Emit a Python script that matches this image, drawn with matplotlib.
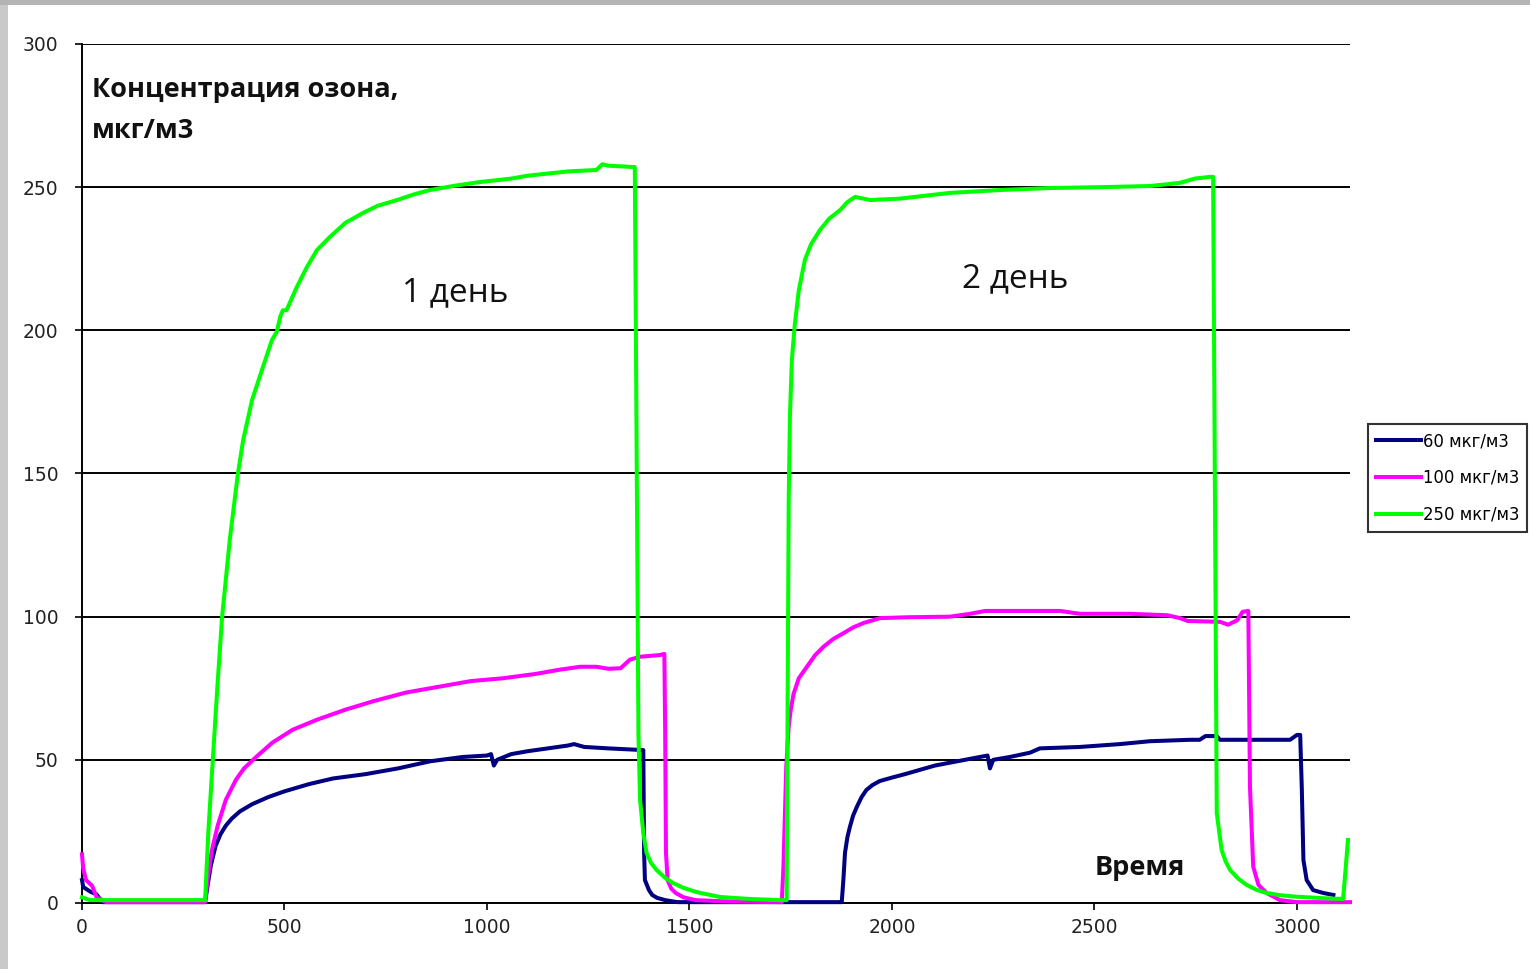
# Ozone concentration vs time, two days of measurements
import numpy as np
import matplotlib.pyplot as plt
from matplotlib.patches import Rectangle

# ============================================
# Data
labels = ["60 мкг/м3", "100 мкг/м3", "250 мкг/м3"]
colors = ["#000080", "#ff00ff", "#00ff00"]

t_60 = [0, 3, 20, 36, 50, 304, 310, 318, 330, 342, 355, 370, 390, 420, 460, 500, 560, 620,
        700, 780, 860, 940, 1000, 1010, 1017, 1025, 1060, 1100, 1150, 1200, 1215, 1240,
        1300, 1386, 1388, 1390, 1400, 1408, 1420, 1440, 1470, 1876, 1880, 1884, 1890,
        1896, 1904, 1913, 1925, 1937, 1952, 1970, 2000, 2032, 2106, 2180, 2217, 2236,
        2242, 2250, 2291, 2341, 2365, 2464, 2563, 2637, 2736, 2760, 2774, 2802, 2810,
        2983, 3000, 3008, 3012, 3016, 3024, 3040, 3065, 3090]
c_60 = [8, 5.6, 4, 3, 0.3, 0.3, 6, 13, 20, 24, 27, 29.5, 32, 34.5, 37, 39, 41.5, 43.5,
        45, 47, 49.5, 51, 51.5, 52, 48, 50, 52, 53, 54, 55, 55.5, 54.5,
        54, 53.4, 17.5, 8, 4.5, 2.8, 1.8, 1, 0.3, 0.3, 8, 17.5, 23,
        26.5, 30.5, 33.5, 37, 39.5, 41.2, 42.6, 43.8, 45, 48, 50, 51, 51.5,
        47, 50, 51, 52.5, 54, 54.5, 55.5, 56.5, 57, 57, 58.3, 58.3, 57,
        57, 58.7, 58.7, 40, 15, 8, 4.5, 3.5, 2.8]

t_100 = [0, 3, 10, 25, 36, 60, 304, 310, 320, 335, 355, 380, 400, 430, 470, 520, 580,
         650, 720, 800, 880, 960, 1040, 1120, 1180, 1230, 1270, 1300, 1330, 1353, 1378,
         1427, 1438, 1440, 1442, 1446, 1455, 1466, 1485, 1515, 1600, 1728, 1732, 1739,
         1745, 1750, 1757, 1770, 1790, 1810, 1831, 1855, 1881, 1905, 1930, 1971, 2040,
         2143, 2193, 2230, 2415, 2464, 2588, 2680, 2711, 2730, 2810, 2830, 2852, 2866,
         2880, 2884, 2892, 2905, 2925, 2958, 3000, 3131]
c_100 = [17, 12, 8, 6, 2, 0.3, 0.3, 8, 18, 27, 36, 43, 47, 51, 56, 60.5, 64,
         67.5, 70.5, 73.5, 75.5, 77.5, 78.5, 80, 81.5, 82.5, 82.5, 81.8, 82, 85, 86,
         86.6, 87, 60, 17.5, 8, 5, 3.5, 2, 1, 0.5, 0.3, 12.6, 47.6,
         61.6, 67.5, 73, 78.5, 82.5, 86.5, 89.5, 92.2, 94.3, 96.3, 97.8, 99.5, 99.8,
         100, 101, 102, 102, 101, 101, 100.5, 99.5, 98.5, 98.2, 97.2, 98.7, 101.7,
         102, 40.6, 12.7, 6.3, 3.5, 1, 0.3, 0.3]

t_250 = [0, 20, 60, 304, 312, 323, 334, 346, 365, 385, 398, 420, 444, 469, 481, 490,
         496, 505, 530, 555, 580, 612, 650, 694, 730, 778, 820, 859, 920, 983, 1060,
         1100, 1200, 1270, 1285, 1300, 1365, 1374, 1378, 1386, 1394, 1405, 1419, 1438,
         1459, 1485, 1518, 1575, 1650, 1723, 1740, 1742, 1745, 1748, 1753, 1760, 1770,
         1785, 1800, 1822, 1845, 1872, 1890, 1909, 1946, 2020, 2143, 2267, 2390, 2514,
         2637, 2711, 2748, 2785, 2793, 2802, 2814, 2824, 2835, 2855, 2876, 2900, 2925,
         2960, 2999, 3060, 3114, 3126]
c_250 = [2, 1, 1, 1, 25, 50, 75, 100, 127, 150, 161.7, 175.7, 186, 196.6, 199.5, 205,
         207, 207, 215, 222, 228, 232.6, 237.5, 241, 243.5, 245.5, 247.5, 249, 250.5,
         251.8, 253, 254, 255.5, 256, 258, 257.5, 257, 59, 36, 24.4, 17.5, 14, 11.5,
         9, 7, 5.3, 3.8, 2.1, 1.4, 1, 1, 60, 140, 170, 190, 202, 214,
         224.6, 230, 235, 239, 242, 244.8, 246.6, 245.5, 246, 248, 249, 249.7, 250,
         250.4, 251.5, 253, 253.6, 253.6, 31.4, 18.5, 14.5, 11.5, 8.5, 6.3, 4.6, 3.5,
         2.7, 2.2, 1.7, 1.4, 22]

series_t = [t_60, t_100, t_250]
series_c = [c_60, c_100, c_250]

y_ticks = [0, 50, 100, 150, 200, 250, 300]
x_ticks = [0, 500, 1000, 1500, 2000, 2500, 3000]
# ============================================

W, H = 1530, 969
fig = plt.figure(figsize=(W / 100, H / 100), dpi=100)
fig.patch.set_facecolor("white")

# grey screenshot border (left and top)
fig.patches.append(Rectangle((0, 0), 8 / W, 1, transform=fig.transFigure,
                             facecolor="#c9c9c9", edgecolor="none", zorder=0))
fig.patches.append(Rectangle((0, 1 - 5 / H), 1, 5 / H, transform=fig.transFigure,
                             facecolor="#b4b4b4", edgecolor="none", zorder=0))

ax = fig.add_axes([82 / W, 1 - 903 / H, (1350 - 82) / W, (903 - 44) / H])
ax.set_xlim(0, 3131)
ax.set_ylim(0, 300)

for t, c, col, lab in zip(series_t, series_c, colors, labels):
    ax.plot(t, c, color=col, lw=2.9, label=lab, clip_on=False,
            solid_joinstyle="round", zorder=3)

# black horizontal gridlines
ax.set_yticks(y_ticks)
ax.set_xticks(x_ticks)
ax.yaxis.grid(True, color="black", lw=1.4)
ax.set_axisbelow(True)
for side in ["top", "right"]:
    ax.spines[side].set_visible(False)
for side in ["left", "bottom"]:
    ax.spines[side].set_linewidth(1.4)
ax.tick_params(axis="y", direction="out", length=5, width=1.2, pad=12,
               labelsize=13.5, labelcolor="#222222")
ax.tick_params(axis="x", direction="out", length=5, width=1.2, pad=6,
               labelsize=13.5, labelcolor="#222222")

# annotations
txt = dict(family="Open Sans", color="#111111")
ax.text(25, 281.5, "Концентрация озона,", fontsize=19.5, fontweight="bold",
        va="baseline", **txt)
ax.text(25, 267.2, "мкг/м3", fontsize=19.5, fontweight="bold", va="baseline", **txt)
ax.text(790, 210, "1 день", fontsize=24, va="baseline", **txt)
ax.text(2173, 215, "2 день", fontsize=24, va="baseline", **txt)
ax.text(2501, 9.8, "Время", fontsize=19.5, fontweight="bold", va="baseline", **txt)

leg = fig.legend(loc="upper left", bbox_to_anchor=(1368 / W, 1 - 424 / H),
                 fontsize=11.9, frameon=True, fancybox=False, edgecolor="black",
                 handlelength=2.7, handletextpad=0.1, labelspacing=1.12,
                 borderpad=0.5, borderaxespad=0)
leg.get_frame().set_linewidth(1.5)

fig.savefig("out.png", dpi=100)
